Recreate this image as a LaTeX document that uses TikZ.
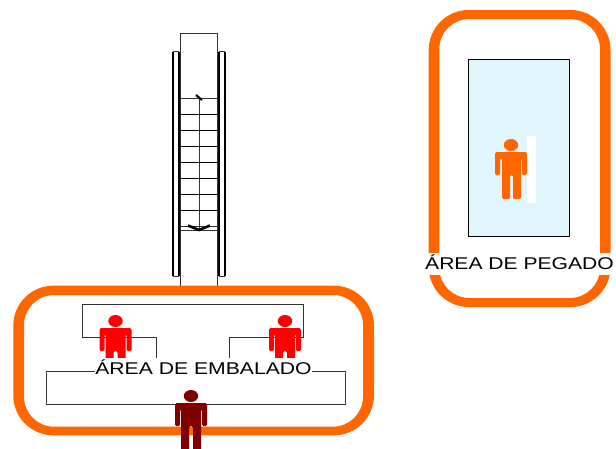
\documentclass[tikz,border=0pt]{standalone}
\usepackage{graphicx}
\usepackage{fontspec}
\setmainfont{Liberation Sans}
\definecolor{ringorange}{HTML}{FF6600}
\definecolor{paleblue}{HTML}{E0F5FC}
\definecolor{darkred}{HTML}{800000}
\tikzset{
  ring/.style={fill=ringorange,even odd rule},
  thinline/.style={draw=black!80,line width=1pt},
  steprung/.style={draw=black,line width=1pt},
  rail/.style={draw=black,line width=2pt},
  arealabel/.style={inner xsep=0pt,inner ysep=0pt,text=black,font=\fontsize{17}{17}\selectfont},
  person/.pic={
    \fill (0,0) ellipse [x radius=7.2,y radius=6];
    \fill[rounded corners=1.5pt] (-16,7) -- (16,7) -- (16,30) -- (11,30) -- (11,13) -- (10,13) -- (10,60) -- (2,60) -- (2,30) -- (-2,30) -- (-2,60) -- (-10,60) -- (-10,13) -- (-11,13) -- (-11,30) -- (-16,30) -- cycle;
  }
}
\begin{document}
\begin{tikzpicture}[x=1pt,y=-1pt]
\useasboundingbox (0,0) rectangle (616,448);
% escalator
\draw[thinline] (180.5,33.5) rectangle (217.5,293);
\foreach \x in {172.5,179}{\draw[rail] (\x,52) -- (\x,276);}
\foreach \x in {218.5,225}{\draw[rail] (\x,52) -- (\x,276);}
\draw[thinline,line width=.7pt] (172.5,51.5) -- (179,51.5) (218.5,51.5) -- (225,51.5) (172.5,276.5) -- (179,276.5) (218.5,276.5) -- (225,276.5);
\foreach \y in {114,130,146,162,178,194,210}{\draw[steprung] (180.5,\y) -- (217.5,\y);}
\foreach \y in {98,226,230}{\draw[thinline] (180.5,\y) -- (217.5,\y);}
\draw[thinline] (199,98) -- (199,230);
\draw[draw=black,line width=2pt] (196,95) -- (202,100);
\draw[draw=black,line width=2.6pt] (188,225.5) -- (199,230) -- (210,225.5);
% rings
\fill[ring] [rounded corners=40pt] (13.3,285.7) rectangle (374,435.3) [rounded corners=30pt] (24,295) rectangle (363,426.7);
\fill[ring] [rounded corners=40pt] (428.7,10) rectangle (610.5,307) [rounded corners=30pt] (439.3,19) rectangle (600,298);
% pegado room
\draw[fill=paleblue,draw=black,line width=.8pt] (468.5,59.5) rectangle (569,236);
\fill[white] (527,136) rectangle (536,203);
% belts
\draw[thinline] (156,358) -- (156,337) -- (82,337) -- (82,304) -- (303,304) -- (303,337) -- (229,337) -- (229,358);
\coordinate (belta) at (95,371);
\coordinate (beltb) at (312,371);
\draw[thinline] (belta) -- (46,371) -- (46,404) -- (345,404) -- (345,371) -- (beltb);
% people
\path pic[fill=red] at (115.5,321) {person};
\path pic[fill=red] at (285,321) {person};
\fill[white] (95,358) rectangle (312,384);
\path pic[fill=darkred] at (191,396) {person};
\fill[ringorange] (511,145) ellipse [x radius=7.2,y radius=6];
\fill[ringorange,rounded corners=1.5pt] (495,152) -- (527,152) -- (527,175) -- (522,175) -- (522,158) -- (521,158) -- (521,199) -- (513,199) -- (513,175) -- (510,175) -- (510,199) -- (502,199) -- (502,158) -- (500,158) -- (500,175) -- (495,175) -- cycle;
% labels
\node[arealabel,anchor=base] (emb) at (203.5,374) {\scalebox{1.245}[1]{ÁREA DE EMBALADO}};
\fill[white] (424,253) rectangle (616,275);
\node[arealabel,anchor=base] (peg) at (519.5,269) {\scalebox{1.24}[1]{ÁREA DE PEGADO}};
\end{tikzpicture}
\end{document}
